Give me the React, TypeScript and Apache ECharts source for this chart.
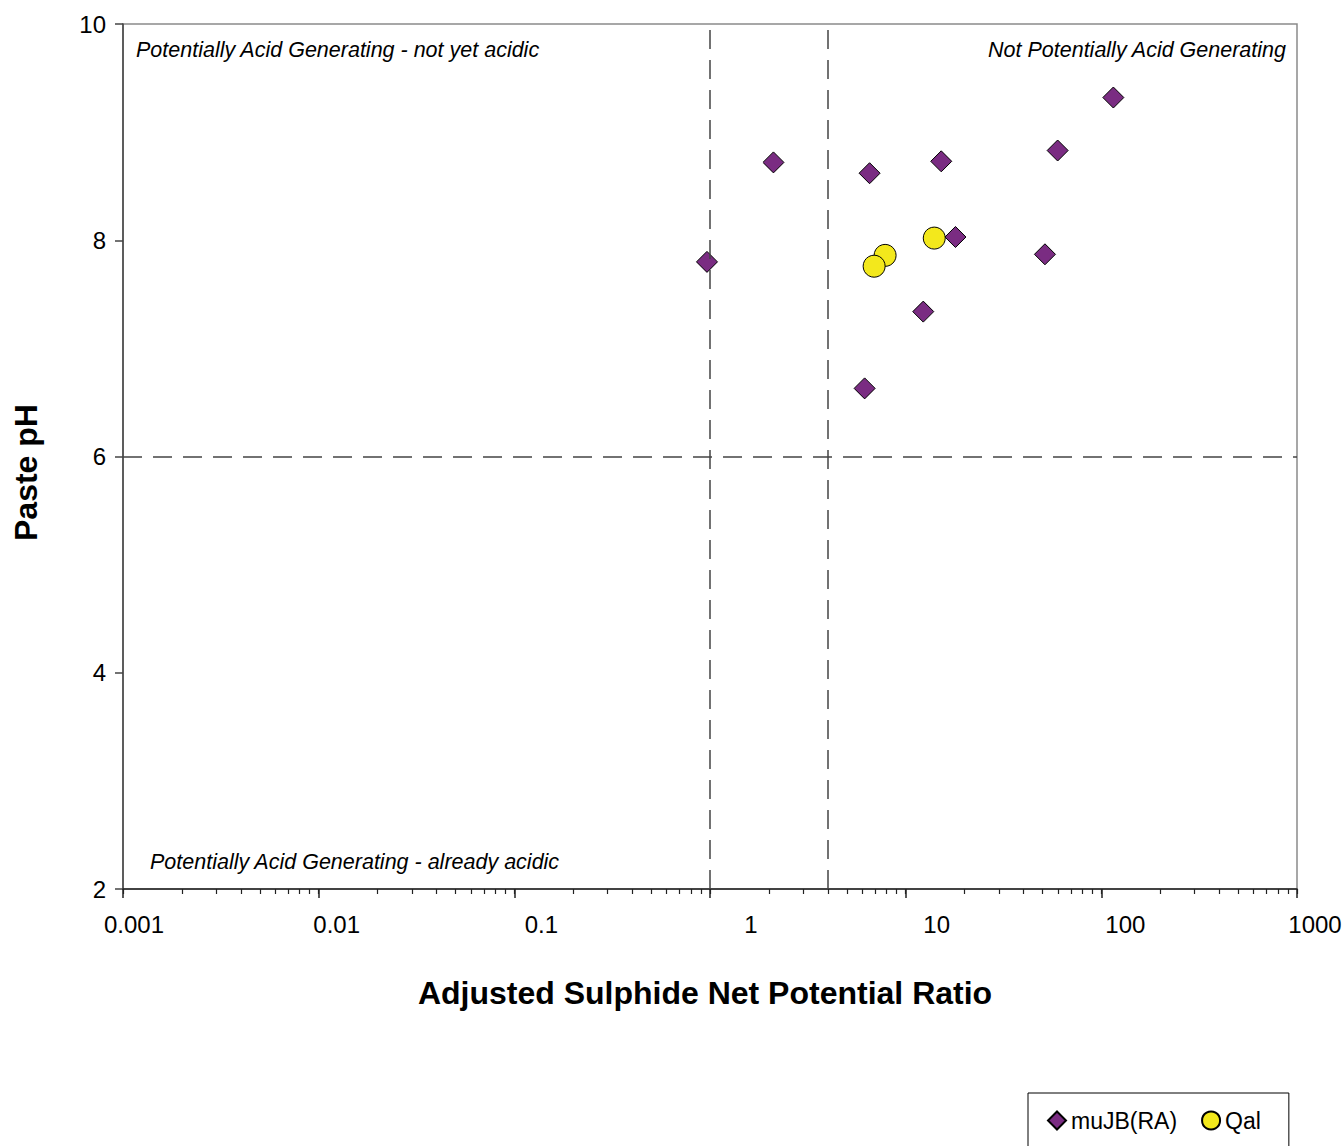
import React, { useEffect, useRef } from "react";
import * as echarts from "echarts";

// Data (x: Adjusted Sulphide NPR, log scale; y: Paste pH)
const muJBx = [0.965, 2.11, 6.54, 15.2, 17.97, 12.3, 6.17, 59.8, 115.2, 51.5];
const muJBy = [7.8, 8.72, 8.62, 8.73, 8.03, 7.34, 6.63, 8.83, 9.32, 7.87];
const qalX = [14.0, 7.85, 6.9];
const qalY = [8.02, 7.86, 7.76];

const xTickLabels = ["0.001", "0.01", "0.1", "1", "10", "100", "1000"];
const xMajorTicks = [0.001, 0.01, 0.1, 1, 10, 100, 1000];
const labelShift = [11, 18, 27, 41, 31, 24, 18];
const thresholdsX = [1, 4];
const thresholdY = 6;

const FONT = "'Liberation Sans', Arial, Helvetica, sans-serif";

const minorTicks: number[] = [];
for (let d = -3; d < 3; d++) {
  for (let m = 1; m <= 9; m++) minorTicks.push(m * Math.pow(10, d));
}
minorTicks.push(1000);

const rich: Record<string, any> = {};
labelShift.forEach((s, i) => {
  rich["o" + i] = {
    fontSize: 24,
    fontFamily: FONT,
    color: "#000",
    padding: [0, 0, 0, 2 * s],
    lineHeight: 26,
  };
});

export default function App() {
  const ref = useRef<HTMLDivElement>(null);
  useEffect(() => {
    if (!ref.current) return;
    const chart = echarts.init(ref.current, undefined, { renderer: "svg" });
    const option: any = {
      animation: false,
      backgroundColor: "#fff",
      textStyle: { fontFamily: FONT },
      grid: {
        left: 123,
        top: 24,
        right: 47,
        bottom: 257,
        containLabel: false,
        outerBoundsMode: "none",
        show: true,
        borderColor: "#8a8a8a",
        borderWidth: 1.5,
        backgroundColor: "transparent",
      },
      legend: {
        left: 1028,
        top: 1093,
        orient: "horizontal",
        borderColor: "#000",
        borderWidth: 1,
        padding: [16, 28, 30, 19],
        itemWidth: 18,
        itemHeight: 18,
        itemGap: 24,
        textStyle: { fontSize: 23, color: "#000", fontFamily: FONT },
        data: [
          { name: "muJB(RA)", icon: "diamond" },
          { name: "Qal", icon: "circle" },
        ],
      },
      xAxis: [
        {
          type: "log",
          logBase: 10,
          min: 0.001,
          max: 1000,
          position: "bottom",
          name: "Adjusted Sulphide Net Potential Ratio",
          nameLocation: "middle",
          nameGap: 88,
          nameTextStyle: {
            fontSize: 32,
            fontWeight: "bold",
            color: "#000",
            fontFamily: FONT,
            padding: [0, 10, 0, 0],
          },
          axisLine: { show: true, onZero: false, lineStyle: { color: "#222", width: 1.5 } },
          axisTick: {
            show: true,
            inside: false,
            length: 9,
            customValues: xMajorTicks,
            lineStyle: { color: "#222", width: 1.5 },
          },
          axisLabel: {
            show: true,
            margin: 22,
            customValues: xMajorTicks,
            formatter: (v: number) => {
              const k = Math.round(Math.log10(v)) + 3;
              return "{o" + k + "|" + xTickLabels[k] + "}";
            },
            rich,
          },
          splitLine: { show: false },
          minorTick: { show: false },
        },
        {
          type: "log",
          logBase: 10,
          min: 0.001,
          max: 1000,
          position: "bottom",
          axisLine: { show: false },
          axisTick: {
            show: true,
            inside: false,
            length: 5,
            customValues: minorTicks,
            lineStyle: { color: "#222", width: 1.2 },
          },
          axisLabel: { show: false },
          splitLine: { show: false },
        },
      ],
      yAxis: {
        type: "value",
        min: 2,
        max: 10,
        interval: 2,
        name: "Paste pH",
        nameLocation: "middle",
        nameGap: 81,
        nameTextStyle: {
          fontSize: 32,
          fontWeight: "bold",
          color: "#000",
          fontFamily: FONT,
          padding: [0, 32, 0, 0],
        },
        axisLine: { show: true, onZero: false, lineStyle: { color: "#444", width: 1.5 } },
        axisTick: { show: true, inside: false, length: 8, lineStyle: { color: "#444", width: 1.5 } },
        axisLabel: { fontSize: 24, color: "#000", margin: 17, fontFamily: FONT },
        splitLine: { show: false },
      },
      series: [
        {
          name: "thresholds",
          type: "scatter",
          data: [],
          z: 1,
          silent: true,
          markLine: {
            silent: true,
            symbol: ["none", "none"],
            label: { show: false },
            lineStyle: { color: "#444", width: 1.5, type: [19, 11] },
            data: [
              ...thresholdsX.map((x) => ({ xAxis: x })),
              { yAxis: thresholdY },
            ],
          },
        },
        {
          name: "muJB(RA)",
          type: "scatter",
          symbol: "diamond",
          symbolSize: 21,
          z: 3,
          itemStyle: { color: "#7a2c82", borderColor: "#000", borderWidth: 1, opacity: 1 },
          data: muJBx.map((x, i) => [x, muJBy[i]]),
        },
        {
          name: "Qal",
          type: "scatter",
          symbol: "circle",
          symbolSize: 22,
          z: 4,
          itemStyle: { color: "#f3e81c", borderColor: "#000", borderWidth: 1, opacity: 1 },
          data: qalX.map((x, i) => [x, qalY[i]]),
        },
      ],
      graphic: [
        {
          type: "text",
          x: 136,
          y: 50,
          z: 10,
          style: {
            text: "Potentially Acid Generating - not yet acidic",
            font: "italic 21.5px " + FONT,
            fill: "#000",
            align: "left",
            verticalAlign: "middle",
          },
        },
        {
          type: "text",
          x: 1286,
          y: 50,
          z: 10,
          style: {
            text: "Not Potentially Acid Generating",
            font: "italic 21.5px " + FONT,
            fill: "#000",
            align: "right",
            verticalAlign: "middle",
          },
        },
        {
          type: "text",
          x: 150,
          y: 862,
          z: 10,
          style: {
            text: "Potentially Acid Generating - already acidic",
            font: "italic 21.5px " + FONT,
            fill: "#000",
            align: "left",
            verticalAlign: "middle",
          },
        },
      ],
    };
    chart.setOption(option);
    return () => chart.dispose();
  }, []);
  return (
    <div
      ref={ref}
      style={{ position: "absolute", left: 0, top: 0, width: 1344, height: 1146 }}
    />
  );
}
